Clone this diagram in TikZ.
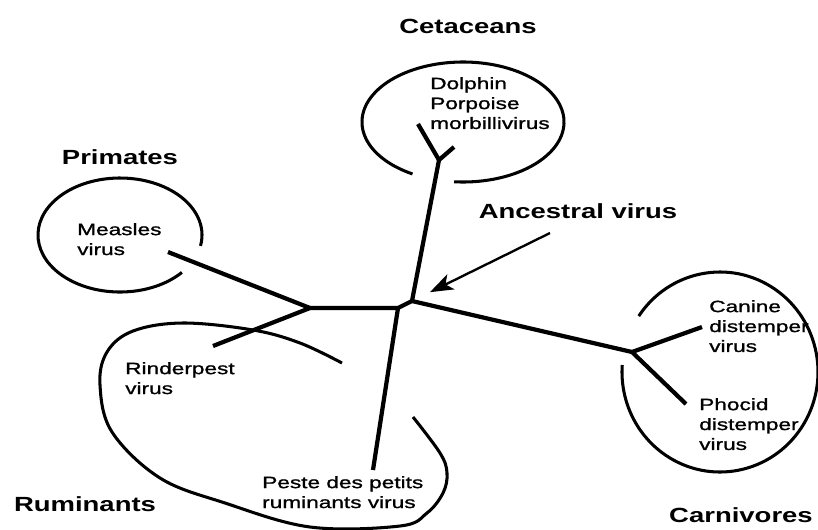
\documentclass[tikz,border=0pt]{standalone}
\usepackage{fontspec}
\setmainfont{Liberation Sans}
\newfontfamily\groupfont[FakeStretch=1.34]{Liberation Sans}
\newfontfamily\virusfont[FakeStretch=1.38, FakeBold=1.2]{Liberation Sans}
\usetikzlibrary{arrows.meta}

\begin{document}
\begin{tikzpicture}[
    x=0.3mm, y=-0.3mm,
    % tree branches
    branch/.style={
        line width=3.6pt,
        line join=round
    },
    % open host loops
    clade/.style={
        line width=2.6pt
    },
    % host group titles
    group/.style={
        font=\groupfont\bfseries\fontsize{17.5}{20}\selectfont,
        inner sep=0pt
    },
    % virus names
    virus/.style={
        font=\virusfont\fontsize{14}{17}\selectfont,
        align=left,
        anchor=north west,
        inner sep=0pt
    },
    % pointer to the root
    pointer/.style={
        -{Stealth[length=7mm, width=5mm, inset=1.8mm]},
        line width=2pt,
        shorten >=6mm
    }
]

    \path[use as bounding box, fill=white] (0,0) rectangle (818,529);

    % --- 1. tree points ---
    \coordinate (root) at (412,301);
    \coordinate (fork) at (398,308);
    \coordinate (primfork) at (310,308);
    \coordinate (cetfork) at (439,160);
    \coordinate (carnfork) at (632,352);
    \coordinate (measlestip) at (168,252);
    \coordinate (rindertip) at (213,346);
    \coordinate (dolphintip) at (418,124);
    \coordinate (porpoisetip) at (454,147);
    \coordinate (pprtip) at (373,470);
    \coordinate (caninetip) at (702,327);
    \coordinate (phocidtip) at (686,404);
    \coordinate (arrowtail) at (550,233);

    % --- 2. branches ---
    \draw[branch] (cetfork) -- (root) -- (fork) -- (primfork);
    \draw[branch] (measlestip) -- (primfork) -- (rindertip);
    \draw[branch] (fork) -- (pprtip);
    \draw[branch] (root) -- (carnfork);
    \draw[branch] (caninetip) -- (carnfork) -- (phocidtip);
    \draw[branch] (dolphintip) -- (cetfork) -- (porpoisetip);

    % --- 3. host loops ---
    % Cetaceans
    \draw[clade] (463,122) ++(120:101 and 60)
        arc[start angle=120, end angle=455, x radius=101, y radius=60];
    % Primates
    \draw[clade] (120,235) ++(41:82 and 57)
        arc[start angle=41, end angle=371, x radius=82, y radius=57];
    % Carnivores
    \draw[clade] (720,372) ++(214:98 and 100)
        arc[start angle=214, end angle=544, x radius=98, y radius=100];
    % Ruminants
    \draw[clade] plot[smooth, tension=0.6] coordinates {
        (342,363) (300,343) (253,330) (183,323) (133,331) (107,352)
        (100,385) (112,432) (160,478) (225,503) (310,527) (400,526)
        (427,513) (443,493) (447,473) (440,453) (413,417)};

    % --- 4. labels ---
    \node[group] (cetaceans) at (468,26) {Cetaceans};
    \node[group] (primates) at (120,157) {Primates};
    \node[group] (ruminants) at (85,504) {Ruminants};
    \node[group, anchor=east] (carnivores) at (813,515) {Carnivores};
    \node[group] (ancestral) at (578,211) {Ancestral virus};

    \node[virus] (dolphin) at (430,77) {Dolphin\\Porpoise\\morbillivirus};
    \node[virus] (measles) at (77,223) {Measles\\virus};
    \node[virus] (rinderpest) at (125,362) {Rinderpest\\virus};
    \node[virus] (ppr) at (262,476) {Peste des petits\\ruminants virus};
    \node[virus] (canine) at (709,300) {Canine\\distemper\\virus};
    \node[virus] (phocid) at (699,398) {Phocid\\distemper\\virus};

    % --- 5. ancestral pointer ---
    \draw[pointer] (arrowtail) -- (root);

\end{tikzpicture}
\end{document}
